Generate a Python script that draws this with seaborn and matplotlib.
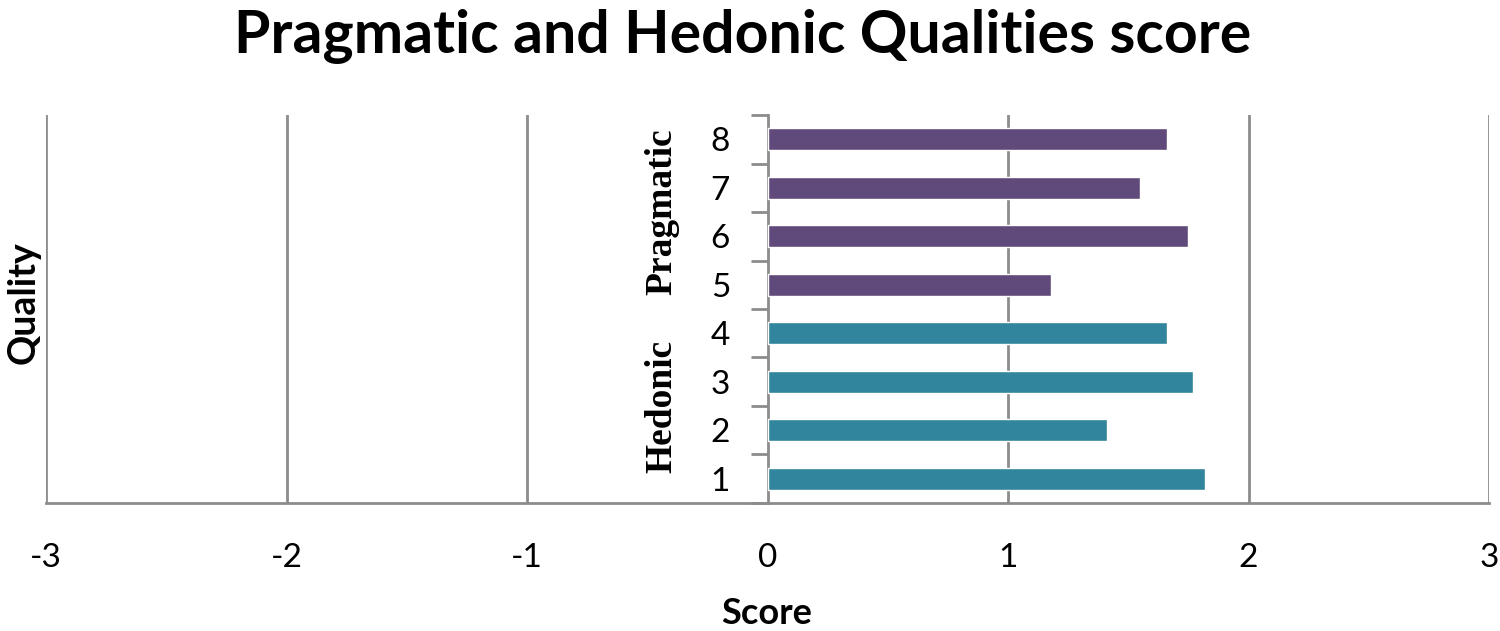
import pandas as pd
import seaborn as sns
import matplotlib.pyplot as plt
from matplotlib.ticker import FixedLocator

sns.set_theme(style="white")
plt.rcParams['font.family'] = ['Lato', 'DejaVu Sans']
plt.rcParams['text.color'] = 'black'
plt.rcParams['xtick.color'] = 'black'
plt.rcParams['ytick.color'] = 'black'

# Werte
ITEMS = ['1', '2', '3', '4', '5', '6', '7', '8']
SCORES = [1.82, 1.41, 1.77, 1.66, 1.18, 1.75, 1.55, 1.66]
QUALITY = ['Hedonic', 'Hedonic', 'Hedonic', 'Hedonic',
           'Pragmatic', 'Pragmatic', 'Pragmatic', 'Pragmatic']
X_TICKS = [-3, -2, -1, 0, 1, 2, 3]

COLORS = {'Hedonic': '#31859C', 'Pragmatic': '#604A7B'}
GRAY = '#8c8c8c'

df = pd.DataFrame({'Item': ITEMS, 'Score': SCORES, 'Quality': QUALITY})
order = ITEMS[::-1]

fig = plt.figure(figsize=(15, 6.31), dpi=100)
ax = fig.add_axes([0.0307, 0.2029, 0.962, 0.6148])

sns.barplot(data=df, x='Score', y='Item', hue='Quality', order=order,
            palette=COLORS, dodge=False, width=0.45, orient='h',
            legend=False, ax=ax, saturation=1, zorder=3)

ax.set_xlim(-3, 3)
ax.set_ylim(len(order) - 0.5, -0.5)
ax.set_xticks(X_TICKS)
ax.set_xticklabels([str(t) for t in X_TICKS])

# vertikale Gitterlinien
for t in X_TICKS:
	if t != 0:
		ax.axvline(t, color=GRAY, linewidth=2, zorder=0)

for side in ['top', 'right']:
	ax.spines[side].set_visible(False)
ax.spines['left'].set_position(('data', 0))
ax.spines['left'].set_color(GRAY)
ax.spines['left'].set_linewidth(2)
ax.spines['bottom'].set_color(GRAY)
ax.spines['bottom'].set_linewidth(2)

ax.tick_params(axis='x', direction='out', length=12, width=2, color=GRAY, pad=17, labelsize=24)
ax.tick_params(axis='y', which='major', length=0, pad=27, labelsize=24)
ax.yaxis.set_minor_locator(FixedLocator([i - 0.5 for i in range(len(order) + 1)]))
ax.tick_params(axis='y', which='minor', direction='out', length=12, width=2, color=GRAY, left=True)

# Gruppenbeschriftungen
ax.text(-0.44, 1.5, 'Pragmatic', rotation=90, ha='center', va='center',
        fontsize=27, fontweight='bold', family=['Liberation Serif'])
ax.text(-0.44, 5.5, 'Hedonic', rotation=90, ha='center', va='center',
        fontsize=27, fontweight='bold', family=['Liberation Serif'])

ax.set_xlabel('')
ax.set_ylabel('')
fig.text(0.016, 0.52, 'Quality', rotation=90, ha='center', va='center',
         fontsize=27, fontweight='bold')
fig.text(0.511, 0.028, 'Score', ha='center', va='center',
         fontsize=26, fontweight='bold')
fig.text(0.495, 0.942, 'Pragmatic and Hedonic Qualities score', ha='center', va='center',
         fontsize=42.5, fontweight='bold')

fig.savefig('out.png', dpi=100, facecolor='white')
